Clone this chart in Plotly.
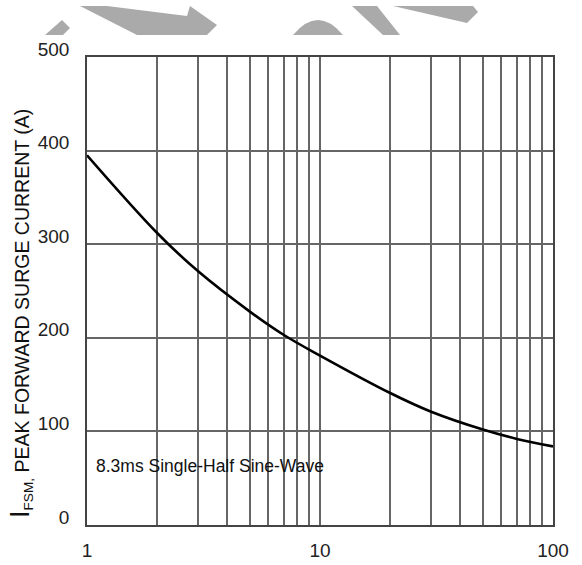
import plotly.graph_objects as go

# ---- data ----
cycles = [1, 2, 3, 5, 7, 10, 20, 30, 50, 70, 100]
surge_current = [395, 312, 271, 228, 203, 181, 141, 121, 102, 92, 84]

x_grid = [1, 2, 3, 4, 5, 6, 7, 8, 9, 10, 20, 30, 40, 50, 60, 70, 80, 90, 100]
x_labels = ["1", "", "", "", "", "", "", "", "", "10", "", "", "", "", "", "", "", "", "100"]
y_ticks = [0, 100, 200, 300, 400, 500]
y_labels = ["0", "100", "200", "300", "400", "500"]

W, H = 582, 565
L, R, T, B = 87, 29, 57, 40
PW, PH = W - L - R, H - T - B


def px(xp, yp):
    """pixel -> paper coordinates (decoration only)"""
    return (xp - L) / PW, (H - B - yp) / PH


def poly(points):
    pts = [px(a, b) for a, b in points]
    return "M " + " L ".join(f"{a:.4f},{b:.4f}" for a, b in pts) + " Z"


fig = go.Figure()
fig.add_trace(go.Scatter(
    x=cycles, y=surge_current, mode="lines",
    line=dict(color="#000000", width=2.6, shape="spline", smoothing=1.0),
    showlegend=False, hoverinfo="skip",
))

grid_col = "#666666"
fig.update_xaxes(
    type="log", range=[0, 2], automargin=False,
    tickmode="array", tickvals=x_grid, ticktext=x_labels,
    showgrid=True, gridcolor=grid_col, gridwidth=1.6,
    showline=True, linecolor="#444444", linewidth=1.6, mirror=True,
    ticks="", ticklabelstandoff=7,
    tickfont=dict(family="Liberation Sans, Arial", size=19, color="#222222"),
    zeroline=False,
)
fig.update_yaxes(
    range=[0, 500], automargin=False,
    tickmode="array", tickvals=y_ticks, ticktext=y_labels,
    showgrid=True, gridcolor=grid_col, gridwidth=1.6,
    showline=True, linecolor="#444444", linewidth=1.6, mirror=True,
    ticks="", ticklabelstandoff=12, ticklabelshift=-8,
    tickfont=dict(family="Liberation Sans, Arial", size=19, color="#222222"),
    zeroline=False,
)

# white box behind the note
bx0, by0 = px(88.5, 488)
bx1, by1 = px(332, 447)
shapes = [dict(type="rect", xref="paper", yref="paper", x0=bx0, x1=bx1, y0=by0, y1=by1,
               fillcolor="white", line=dict(width=0), layer="between")]

# watermark fragments at the top
wm = "#aaaaaa"
wm_polys = [
    [(45, 35), (62, 20), (70, 28), (63, 35)],
    [(80, 6), (107, 6), (187, 16), (190, 6), (217, 25), (207, 35), (137, 35)],
    [(352, 6), (377, 6), (400, 35), (383, 35)],
    [(393, 6), (473, 6), (478, 12), (467, 23)],
]
for p in wm_polys:
    shapes.append(dict(type="path", xref="paper", yref="paper", path=poly(p),
                       fillcolor=wm, line=dict(width=0), layer="above"))
d0 = px(293, 35)
d1 = px(318, 5)
d2 = px(343, 35)
shapes.append(dict(type="path", xref="paper", yref="paper",
                   path=f"M {d0[0]:.4f},{d0[1]:.4f} Q {d1[0]:.4f},{d1[1]:.4f} {d2[0]:.4f},{d2[1]:.4f} Z",
                   fillcolor=wm, line=dict(width=0), layer="above"))

nx, ny = px(94, 466)
tx, ty = px(20, 314)
annotations = [
    dict(xref="paper", yref="paper", x=nx, y=ny, xanchor="left", yanchor="middle",
         text="8.3ms Single-Half Sine-Wave", showarrow=False,
         font=dict(family="Liberation Sans, Arial", size=17.5, color="#111111")),
    dict(xref="paper", yref="paper", x=tx, y=ty, xanchor="center", yanchor="middle",
         textangle=-90, showarrow=False,
         text='<span style="font-size:27px">I</span><sub>FSM,</sub> PEAK FORWARD SURGE CURRENT (A)',
         font=dict(family="Liberation Sans, Arial", size=19.5, color="#111111")),
]

fig.update_layout(
    width=W, height=H,
    margin=dict(l=L, r=R, t=T, b=B, pad=0),
    paper_bgcolor="white", plot_bgcolor="white",
    shapes=shapes, annotations=annotations,
    showlegend=False,
)

fig.write_html("out.html", config={"displayModeBar": False},
               post_script="document.body.style.margin='0';")
